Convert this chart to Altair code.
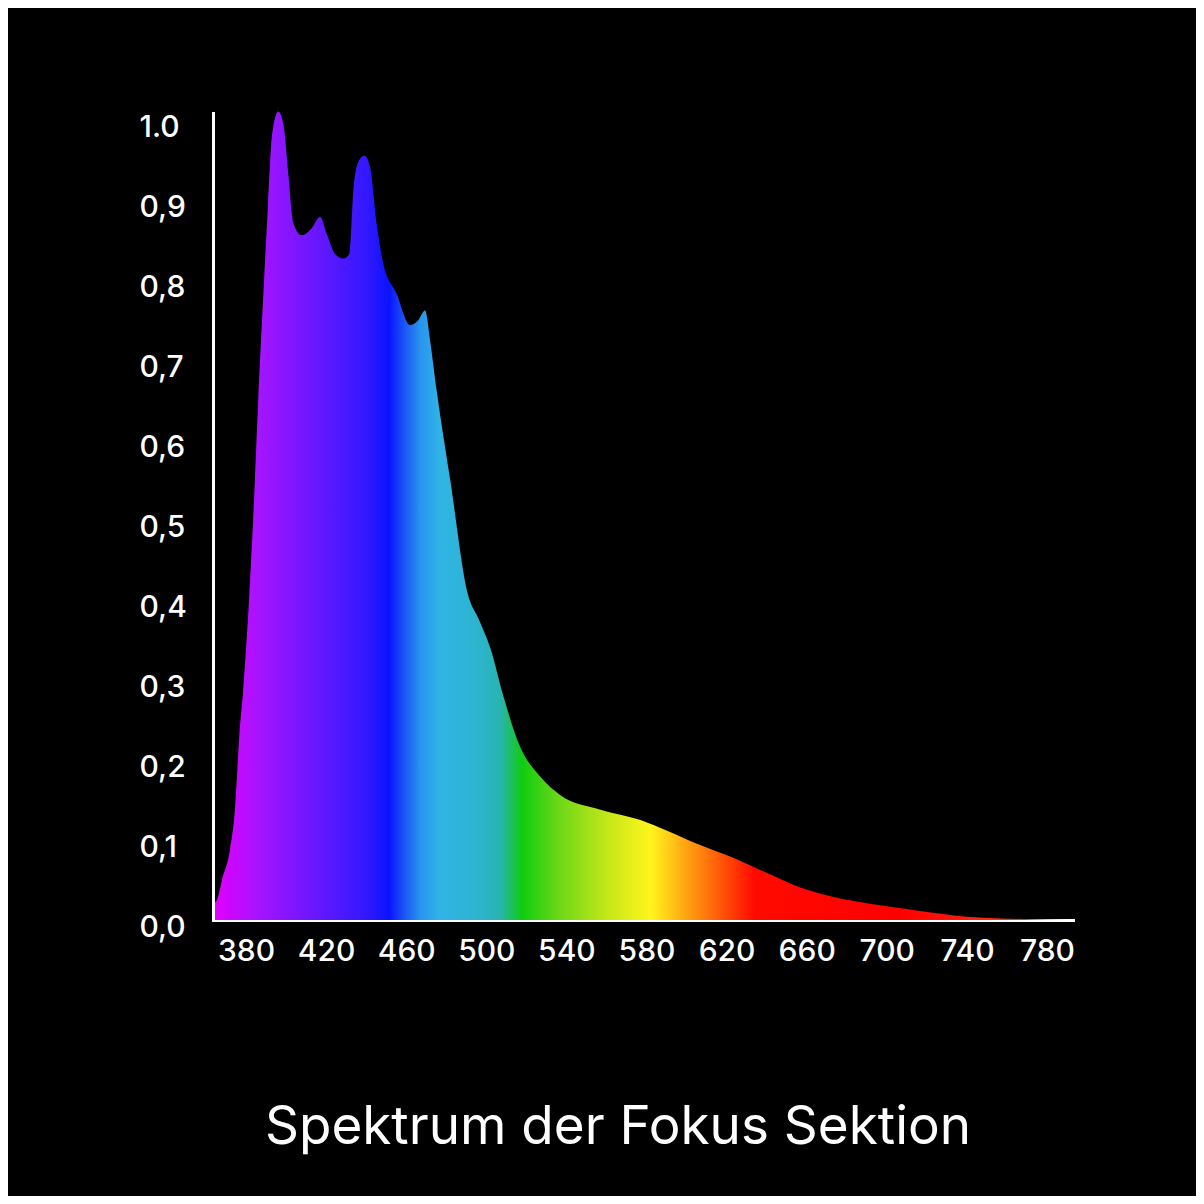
import altair as alt
import pandas as pd

# Spectrum samples (wavelength in nm, relative intensity)
wavelength = [364.5, 365.5, 368.0, 372.0, 374.5, 375.5, 376.5, 378.5, 381.5, 384.0,
              386.0, 388.5, 391.0, 393.0, 396.1, 398.6, 401.1, 403.6, 407.8, 412.8,
              417.0, 420.3, 424.4, 428.6, 431.6, 433.6, 436.1, 439.1, 441.9, 445.2,
              448.5, 455.2, 461.9, 466.0, 469.4, 471.9, 475.2, 482.0, 490.5, 496.4,
              502.0, 508.5, 517.0, 527.0, 537.0, 557.0, 577.0, 590.0, 606.5, 623.0,
              640.0, 656.5, 673.0, 690.0, 706.5, 723.0, 740.0, 756.5, 773.0, 790.5]
intensity = [0.022, 0.025, 0.050, 0.088, 0.140, 0.180, 0.225, 0.285, 0.400, 0.525,
             0.645, 0.775, 0.895, 0.982, 1.011, 0.996, 0.933, 0.871, 0.856, 0.865,
             0.879, 0.858, 0.833, 0.827, 0.833, 0.912, 0.948, 0.956, 0.942, 0.871,
             0.821, 0.783, 0.744, 0.750, 0.762, 0.725, 0.662, 0.550, 0.410, 0.375,
             0.340, 0.280, 0.216, 0.179, 0.156, 0.138, 0.125, 0.112, 0.094, 0.078,
             0.059, 0.041, 0.029, 0.021, 0.015, 0.009, 0.004, 0.002, 0.001, 0.000]

x_ticks = [380, 420, 460, 500, 540, 580, 620, 660, 700, 740, 780]
y_ticks = [0.0, 0.1, 0.2, 0.3, 0.4, 0.5, 0.6, 0.7, 0.8, 0.9, 1.0]
title_text = "Spektrum der Fokus Sektion"

# Spectral colour stops (wavelength -> colour)
stop_nm = [364.5, 387.0, 422.0, 440.0, 451.5, 459.0, 467.0, 477.0, 497.0, 507.0,
           518.0, 537.0, 562.0, 582.0, 602.0, 616.5, 634.0, 706.5, 756.5, 790.5]
stop_col = ["#e000ff", "#a414ff", "#5818ff", "#3318ff", "#0a14ff", "#1a55f5",
            "#2894ee", "#30b4e6", "#2cb4cc", "#28b4b0", "#10cc10", "#70d818",
            "#c8e818", "#fff51c", "#ff9a10", "#ff5a08", "#ff0a00", "#ff0000",
            "#ff2a10", "#ff3010"]

df = pd.DataFrame({"wl": wavelength, "val": intensity})

wmin, wmax = min(wavelength), max(wavelength)
stops = [alt.GradientStop(color=c, offset=round((w - wmin) / (wmax - wmin), 4))
         for w, c in zip(stop_nm, stop_col)]

FONT = "Inter"

chart = alt.Chart(df).mark_area(
    interpolate="monotone",
    color=alt.Gradient(gradient="linear", stops=stops, x1=0, x2=1, y1=0, y2=0),
).encode(
    x=alt.X("wl:Q",
            scale=alt.Scale(domain=[363.5, 793], nice=False, zero=False),
            axis=alt.Axis(values=x_ticks, title=None, labelPadding=16,
                          labelFontSize=30, labelAlign="center")),
    y=alt.Y("val:Q",
            scale=alt.Scale(domain=[0, 1.009], nice=False),
            axis=alt.Axis(values=y_ticks, title=None, labelAlign="left",
                          labelPadding=74, labelOffset=7, labelFontSize=30,
                          labelExpr="datum.value >= 0.99 ? '1.0' : replace(format(datum.value, '.1f'), '.', ',')")),
).properties(
    width=860,
    height=807,
    padding={"left": 205, "top": 105, "right": 123, "bottom": 276},
    autosize=alt.AutoSizeParams(type="none"),
    background="#000000",
    title=alt.TitleParams(text=title_text, orient="bottom", anchor="middle",
                          frame="group", dx=-25, offset=136, fontSize=53,
                          font=FONT, fontWeight="normal", color="#ffffff"),
).configure_axis(
    grid=False,
    ticks=False,
    tickSize=0,
    domainColor="#ffffff",
    domainWidth=3,
    domainCap="square",
    labelColor="#ffffff",
    labelFont=FONT,
    labelFontWeight=500,
).configure_view(
    strokeWidth=0,
)

chart.save("out.html", embed_options={"renderer": "svg", "actions": False})
